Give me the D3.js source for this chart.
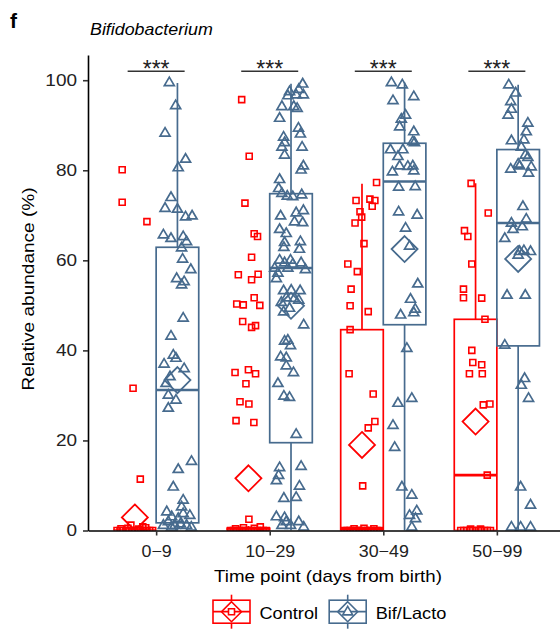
<!DOCTYPE html>
<html><head><meta charset="utf-8">
<script src="https://cdn.jsdelivr.net/npm/d3@7"></script>
<style>body{margin:0;background:#fff;}svg{display:block;font-family:"Liberation Sans",Arial,sans-serif;}</style>
</head><body><svg id="c" width="560" height="629"></svg>
<script>
// ---- data ----
const categories = ["0\u22129", "10\u221229", "30\u221249", "50\u221299"];
const seriesNames = ["Control", "Bif/Lacto"];
const yTicks = [0, 20, 40, 60, 80, 100];
const sigLabels = ["***", "***", "***", "***"];

// box stats per category: [lowerWhisker, q1, median, q3, upperWhisker]
const controlBox = [[0,0,0,0,0],[0,0,0,0.5,1],[0,0,0.3,44.6,77.0],[0,0,12.3,46.9,77.1]];
const bifBox     = [[0,1.7,31.2,62.9,99.4],[0,19.5,58.3,74.8,99.2],[0,45.7,77.5,86.0,99.5],[0,41.0,68.3,84.6,99.0]];
const controlMean = [2.9, 11.6, 19.0, 24.2];
const bifMean     = [33.4, 49.9, 62.5, 60.3];

// points: [value, jitter] (jitter in 1/43 of box width)
const control0_9 = [[80.1,-12.8],[72.9,-12.8],[68.6,12.2],[31.6,-1.8],[11.4,5.5],
  [0,-18],[0,-15],[0,-12],[0,-9],[0,-6],[0,-3],[0,0],[0,3],[0,6],[0,9],[0,12],[0,15],[0,18],
  [0.4,-14],[0.5,-7],[0.3,4],[0.6,11],[1.2,-4],[0.8,8]];
const control10_29 = [[95.7,-6.8],[83.1,0.8],[72.7,-3.5],[65.9,5.8],[65.3,9.2],[60.7,3.2],[56.8,-10.2],[56.9,9.8],
  [55.7,3.2],[51.7,5.8],[50.3,-11.8],[50.1,-5.2],[50.0,11.5],[46.4,-5.8],[45.1,3.2],[45.5,7.2],[35.1,-13.5],
  [35.7,0],[34.8,7.2],[32.6,-2.5],[28.6,-8.5],[28.1,0.5],[24.4,-12.5],[24.0,5.5],[2.5,0.5],
  [0,-18],[0,-15],[0,-12],[0,-9],[0,-6],[0,-3],[0,0],[0,3],[0,6],[0,9],[0,12],[0,15],[0,18],
  [0.4,-13],[0.6,-5],[0.5,6],[0.8,12]];
const control30_49 = [[77.3,14.7],[73.3,-6],[73.6,8],[73.3,13],[70.8,-2],[72.0,10.3],[69.6,-0.3],[68.3,-7],
  [63.7,2],[59.2,-14.3],[57.5,-4.7],[53.6,-11],[49.9,-12],[48.6,6.3],[44.6,-12],[34.8,-13],[30.3,11.3],
  [24.2,13],[22.8,6.3],[9.9,0.7],
  [0,-18],[0,-15],[0,-12],[0,-9],[0,-6],[0,-3],[0,0],[0,3],[0,6],[0,9],[0,12],[0,15],[0,18],
  [0.4,-8],[0.5,2],[0.4,12]];
const control50_99 = [[77.1,-4.5],[70.5,12.8],[66.6,-11.2],[65.3,-7.8],[59.2,-3.8],[53.6,-12.2],[51.7,-12.2],
  [51.6,6.2],[46.9,9.5],[40.0,-3.8],[37.3,-2.8],[36.8,6.2],[34.8,-6.2],[34.8,6.8],[27.9,7.8],[28.1,14.5],[12.3,11.8],
  [0,-15],[0,-12],[0,-9],[0,-6],[0,-3],[0,0],[0,3],[0,6],[0,9],[0,12],[0,15],[0.3,-5],[0.3,5]];

const bif0_9 = [[99.5,-8.2],[94.4,-1.8],[88.3,-12.5],[82.5,8.2],[80.6,0.8],[74.0,-6.5],[71.6,-12.5],[71.4,0],
  [69.7,8.2],[69.9,14.8],[65.7,-14.2],[64.9,-6.5],[65.3,5.8],[64.2,9.2],[62.8,4.2],[60.3,5.2],[58.0,13.5],
  [56.0,-0.8],[55.3,6.8],[54.6,4.2],[47.2,5.8],[43.2,-6.5],[39.0,-4.2],[38.3,-1.5],[37.0,-13.5],[36.0,6.8],
  [34.2,-7.5],[32.7,-11.5],[30.1,-9.2],[29.0,-1.5],[27.2,-9.2],[15.4,14.2],[13.6,0.8],[9.7,-4.2],[6.8,5.8],
  [5.3,4.2],[3.4,12.5],[4.2,-10.8],[3.1,-5.8],[2.7,0.8],[1.2,9.2],[1.2,-14.2],[1.2,-2.5],[3.8,5.8],[2.0,-9.2],
  [0.8,14],[0.8,-6],[1.5,3]];
const bif10_29 = [[99.2,11.8],[97.5,-1.5],[98.0,7.8],[96.8,5.2],[96.6,-3.2],[96.8,12.5],[94.2,-9.2],[94.2,2.8],
  [93.8,6.2],[91.6,-11.5],[89.4,7.5],[88.1,9.5],[87.4,-7.5],[86.2,-6.5],[85.2,-9.2],[85.2,11.2],[83.4,-6.5],
  [81.0,12.5],[80.1,10.2],[78.0,-11.5],[76.0,-12.5],[74.9,-9.2],[74.3,-3.8],[74.2,1.8],[74.6,10.8],[70.6,5.2],
  [71.1,12.5],[69.9,-10.5],[68.6,3.5],[68.4,11.8],[66.9,-11.5],[66.0,-4.8],[64.0,-6.5],[64.2,9.5],[62.5,8.5],
  [62.9,-7.2],[60.1,-11.5],[59.5,-6.5],[60.1,-0.5],[59.5,10.2],[59.2,1.8],[58.3,-16.5],[57.2,-13.2],[58.3,-3.2],
  [58.0,14.5],[56.0,-14.8],[53.3,-7.5],[53.4,0.2],[53.3,9.2],[51.7,-4.8],[51.6,3.5],[50.7,-9.8],[51.2,7.8],
  [48.6,-7.5],[49.4,-1.5],[45.7,12.8],[42.1,-6.5],[42.3,-3.2],[41.1,-0.5],[38.6,-10.5],[38.4,-4.8],[36.6,-4.8],
  [35.1,2.5],[32.7,-13.2],[29.9,-7.2],[29.6,-1.5],[21.4,5.2],[14.0,-11.5],[14.3,10.2],[12.3,-12.5],[11.1,-14.8],
  [9.9,8.5],[7.2,-7.2],[7.4,5.2],[3.1,-14.8],[2.9,-6.5],[2.0,7.8],[1.2,-0.5],[1.2,-9.2],[0.8,12.8],[2.0,-4.8]];
const bif30_49 = [[99.5,-13.3],[99.0,-2.3],[95.5,-11.7],[96.4,9.3],[92.3,1],[91.4,-3.3],[89.7,-5],[88.6,9.3],
  [86.4,8.3],[86.2,10],[84.6,-14.3],[84.6,-1.7],[83.1,-6.7],[81.0,-5],[80.9,3.3],[81.0,8.3],[79.7,-12.3],[79.9,9.3],
  [76.3,-6],[76.4,10.7],[70.8,-6],[70.1,12.7],[67.2,1],[63.2,5],[54.8,13.3],[51.4,6],[49.2,10.7],[47.9,-4],[48.4,9.3],
  [40.5,2.3],[28.3,-6.7],[29.4,7.3],[23.4,-11.7],[18.5,-10],[9.7,-2.7],[7.9,7.3],[4.4,12.3],[3.4,5],[2.7,11],[0.8,7.3]];
const bif50_99 = [[99.0,-9.5],[97.2,-2.5],[95.3,-7.5],[93.6,-6.8],[92.3,-10.2],[90.5,9.8],[88.6,8.2],[86.6,-6.8],
  [86.8,5.8],[85.2,3.2],[83.4,7.2],[82.9,9.8],[81.4,0],[80.8,13.2],[80.3,-7.5],[81.0,1.5],[79.4,10.5],[72.0,4.8],
  [69.2,8.2],[68.3,-6.8],[66.9,-5.2],[67.5,4.2],[64.9,-13.5],[62.0,1.5],[62.2,5.8],[62.0,12.5],[61.2,0],[52.3,-11.2],
  [52.3,7.2],[41.2,-13.5],[33.8,6.5],[32.3,3.2],[29.4,10.5],[9.7,2.5],[5.7,12.5],[0.8,-6.8],[0.8,2.5],[0.8,12.5]];

const controlPoints = [control0_9, control10_29, control30_49, control50_99];
const bifPoints = [bif0_9, bif10_29, bif30_49, bif50_99];

// ---- drawing ----
const RED = "#ff0000", BLUE = "#476b8e", INK = "#222";
const svg = d3.select("#c");
const x = d3.scalePoint().domain(categories).range([88, 565]).padding(0.6);
const y = d3.scaleLinear().domain([0, 105.6]).range([530.5, 55]);
const step = x.step();
const boxW = step * 0.375;
const off = step * 0.1875;
const jit = j => j / 43 * boxW;

function stretch(sel, k) {
  sel.each(function () {
    const w = this.getComputedTextLength();
    d3.select(this).attr("textLength", w * k).attr("lengthAdjust", "spacingAndGlyphs");
  });
}

svg.append("defs").append("clipPath").attr("id", "panel")
  .append("rect").attr("x", 88).attr("y", 40).attr("width", 480).attr("height", 530.5 - 40);

svg.append("text").attr("x", 10).attr("y", 28).attr("font-size", 21).attr("font-weight", "bold").attr("fill", "#000").text("f");
svg.append("text").attr("x", 90).attr("y", 34.5).attr("font-size", 16.5).attr("font-style", "italic").attr("fill", "#000")
  .text("Bifidobacterium").call(stretch, 1.08);

const panel = svg.append("g").attr("clip-path", "url(#panel)");

const series = [
  {name: seriesNames[0], color: RED, box: controlBox, mean: controlMean, pts: controlPoints, dx: -off, shape: "square"},
  {name: seriesNames[1], color: BLUE, box: bifBox, mean: bifMean, pts: bifPoints, dx: off, shape: "triangle"}
];

function shapePath(shape) {
  if (shape === "square") return "M-3,-3H3V3H-3Z";
  return "M0,-5.3L5,3.2L-5,3.2Z";
}
function diamondPath(rx, ry) { ry = ry || rx; return `M0,${-ry}L${rx},0L0,${ry}L${-rx},0Z`; }

// boxes
series.forEach(s => {
  categories.forEach((c, i) => {
    const cx = x(c) + s.dx;
    const [lo, q1, med, q3, hi] = s.box[i];
    const g = panel.append("g").attr("stroke", s.color).attr("stroke-width", 1.7).attr("fill", "none");
    g.append("line").attr("x1", cx).attr("x2", cx).attr("y1", y(hi)).attr("y2", y(q3));
    g.append("line").attr("x1", cx).attr("x2", cx).attr("y1", y(q1)).attr("y2", y(lo));
    g.append("rect").attr("x", cx - boxW / 2).attr("width", boxW).attr("y", y(q3)).attr("height", Math.max(0, y(q1) - y(q3)));
    g.append("line").attr("x1", cx - boxW / 2).attr("x2", cx + boxW / 2).attr("y1", y(med)).attr("y2", y(med)).attr("stroke-width", 2.6);
  });
});
// points
series.forEach(s => {
  categories.forEach((c, i) => {
    const cx = x(c) + s.dx;
    panel.append("g").selectAll("path").data(s.pts[i]).join("path")
      .attr("d", shapePath(s.shape))
      .attr("transform", d => `translate(${cx + jit(d[1])},${y(d[0])})`)
      .attr("fill", "none").attr("stroke", s.color).attr("stroke-width", s.shape === "square" ? 1.6 : 1.7);
  });
});
// means
series.forEach(s => {
  categories.forEach((c, i) => {
    const cx = x(c) + s.dx;
    panel.append("path").attr("d", diamondPath(13))
      .attr("transform", `translate(${cx},${y(s.mean[i])})`)
      .attr("fill", "none").attr("stroke", s.color).attr("stroke-width", 1.8);
  });
});

// significance
categories.forEach((c, i) => {
  svg.append("line").attr("x1", x(c) - 28.5).attr("x2", x(c) + 28.5).attr("y1", y(102)).attr("y2", y(102))
    .attr("stroke", "#333").attr("stroke-width", 1.6);
  svg.append("text").attr("x", x(c)).attr("y", 76.5).attr("text-anchor", "middle")
    .attr("font-size", 23).attr("fill", "#222").text(sigLabels[i]);
});

// axes
const yAx = svg.append("g").attr("transform", "translate(88,0)")
  .call(d3.axisLeft(y).tickValues(yTicks).tickSize(5).tickSizeOuter(0).tickPadding(6));
const xAx = svg.append("g").attr("transform", "translate(0,530.5)")
  .call(d3.axisBottom(x).tickSize(5).tickSizeOuter(0).tickPadding(10));
[yAx, xAx].forEach(a => {
  a.select(".domain").attr("stroke", "#000").attr("stroke-width", 1.6);
  a.selectAll(".tick line").attr("stroke", "#333").attr("stroke-width", 1.6);
  a.selectAll(".tick text").attr("fill", INK).attr("font-size", 16.5).attr("font-family", "Liberation Sans, Arial, sans-serif");
});
yAx.selectAll(".tick text").call(stretch, 1.15);
xAx.selectAll(".tick text").call(stretch, 1.08);

svg.append("text").attr("x", 328).attr("y", 582).attr("text-anchor", "middle").attr("font-size", 17).attr("fill", "#000")
  .text("Time point (days from birth)").call(stretch, 1.1);
svg.append("text").attr("transform", "translate(34,289) rotate(-90)").attr("text-anchor", "middle").attr("font-size", 17).attr("fill", "#000")
  .text("Relative abundance (%)").call(stretch, 1.12);

// legend
const legendX = [231.5, 347.7];
series.forEach((s, k) => {
  const g = svg.append("g").attr("transform", `translate(${legendX[k]},611.7)`)
    .attr("fill", "none").attr("stroke", s.color).attr("stroke-width", 1.6);
  g.append("line").attr("x1", 0).attr("x2", 0).attr("y1", -17).attr("y2", 17);
  g.append("rect").attr("x", -18.5).attr("y", -11.5).attr("width", 37).attr("height", 23).attr("fill", "#fff");
  g.append("line").attr("x1", -18.5).attr("x2", 18.5).attr("y1", 0).attr("y2", 0).attr("stroke-width", 1.8);
  g.append("path").attr("d", diamondPath(10, 10));
  g.append("path").attr("d", shapePath(s.shape)).attr("fill", "#fff");
  svg.append("text").attr("x", legendX[k] + 28).attr("y", 618.5).attr("font-size", 16.5).attr("fill", "#000")
    .text(s.name).call(stretch, 1.1);
});
</script></body></html>
